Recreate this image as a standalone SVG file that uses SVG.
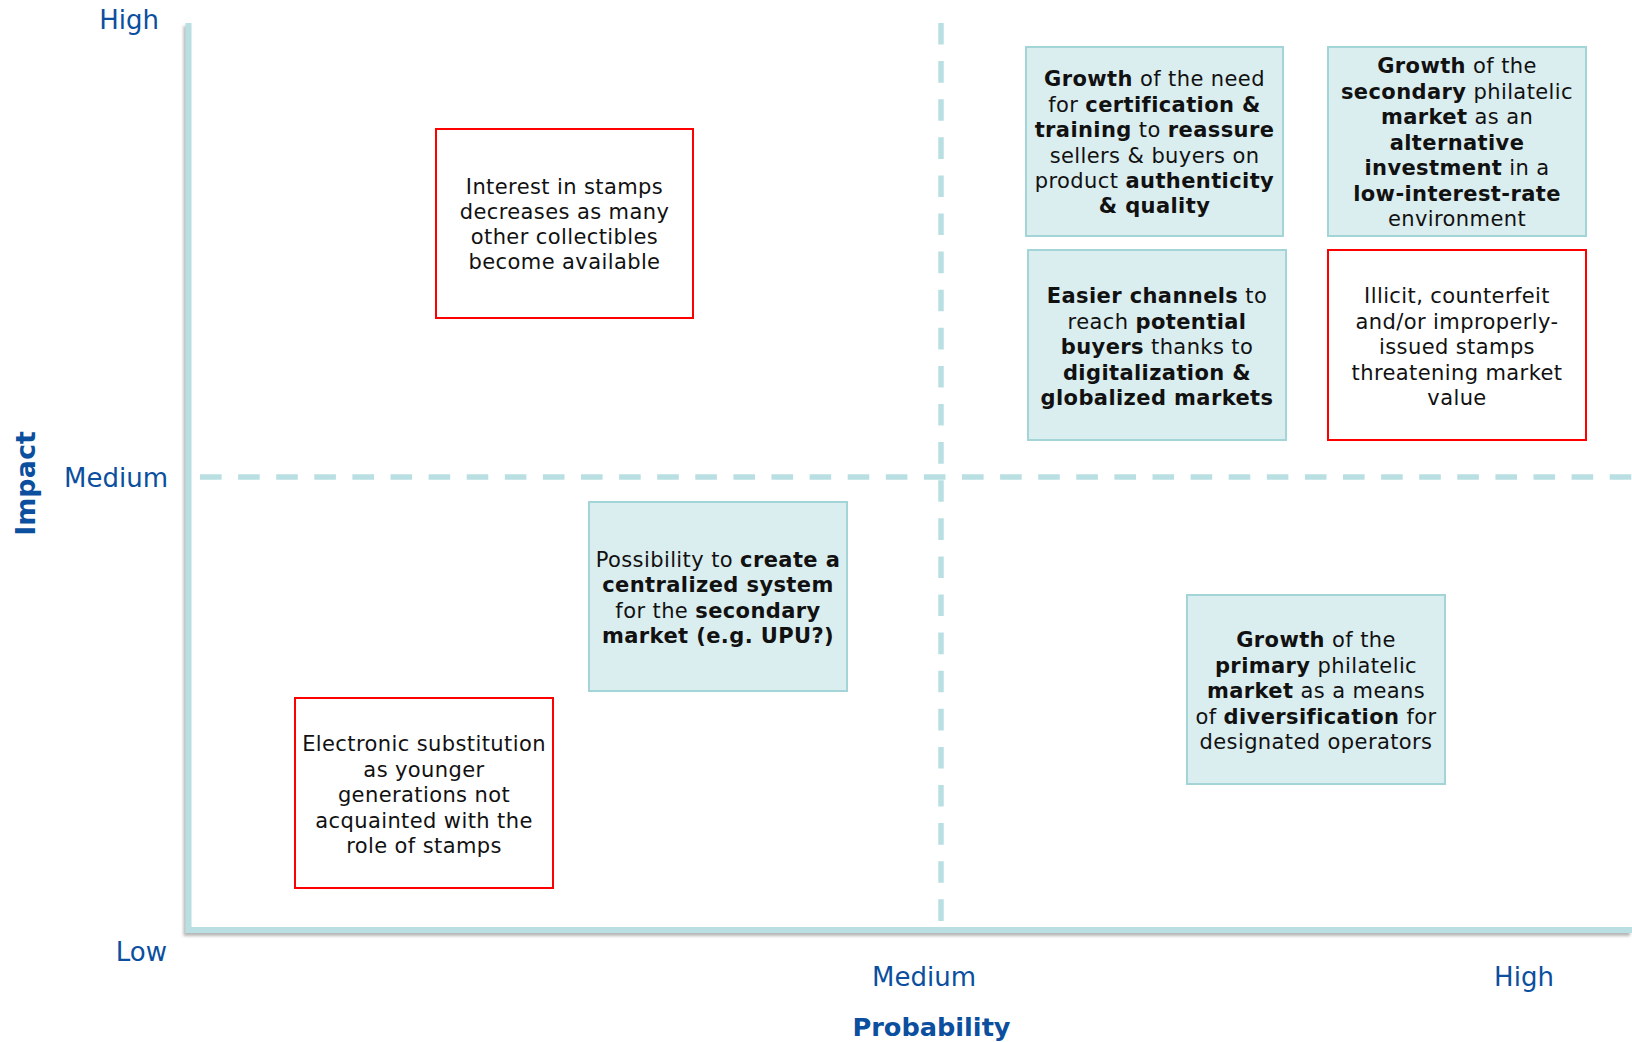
<svg xmlns="http://www.w3.org/2000/svg" width="1632" height="1042" viewBox="0 0 1632 1042">
<defs>
<filter id="sh" x="-5%" y="-5%" width="110%" height="110%">
<feDropShadow dx="-2" dy="3" stdDeviation="1.5" flood-color="#7a7a7a" flood-opacity="0.55"/>
</filter>
</defs>
<style>
.ax{fill:#0B4F9E;font-family:"DejaVu Sans",Verdana,sans-serif;font-size:26px}
.axb{fill:#0B4F9E;font-family:"DejaVu Sans",Verdana,sans-serif;font-size:27px;font-weight:bold}
.teal{fill:#DAEDEF;stroke:#A3D4D8;stroke-width:2}
.red{fill:#FFFFFF;stroke:#FF0000;stroke-width:2}
.t{fill:#111111;font-family:"DejaVu Sans",Verdana,sans-serif;font-size:21px;letter-spacing:0.4px;text-anchor:middle}
.b{font-weight:bold}
.dash{fill:none;stroke:#B9DFE3;stroke-width:5.5;stroke-dasharray:21.6 16.5}
</style>
<rect width="1632" height="1042" fill="#FFFFFF"/>
<g id="axes">
<path d="M188.5,23 V930 H1632" fill="none" stroke="#B9DFE3" stroke-width="6" filter="url(#sh)"/>
<path class="dash" d="M941,23 V921"/>
<path class="dash" d="M200,477 H1632"/>
</g>
<g id="axis-labels">
<text class="ax" x="159" y="29" text-anchor="end">High</text>
<text class="ax" x="168" y="487" text-anchor="end">Medium</text>
<text class="ax" x="167" y="961" text-anchor="end">Low</text>
<text class="ax" x="924" y="986" text-anchor="middle">Medium</text>
<text class="ax" x="1524" y="986" text-anchor="middle">High</text>
<text class="axb" x="931.5" y="1036" text-anchor="middle" style="font-size:25.6px">Probability</text>
<text class="axb" transform="translate(35,483.5) rotate(-90)" x="0" y="0" text-anchor="middle">Impact</text>
</g>
<g id="node-interest">
<rect class="red" x="436" y="129" width="257" height="189"/>
<text class="t"><tspan x="564.5" y="194">Interest in stamps</tspan><tspan x="564.5" y="219">decreases as many</tspan><tspan x="564.5" y="244">other collectibles</tspan><tspan x="564.5" y="269">become available</tspan></text>
</g>
<g id="node-certification">
<rect class="teal" x="1026" y="47" width="257" height="189"/>
<text class="t"><tspan x="1154.5" y="86"><tspan class="b">Growth</tspan> of the need</tspan><tspan x="1154.5" y="111.5">for <tspan class="b">certification &amp;</tspan></tspan><tspan x="1154.5" y="137"><tspan class="b">training</tspan> to <tspan class="b">reassure</tspan></tspan><tspan x="1154.5" y="162.5">sellers &amp; buyers on</tspan><tspan x="1154.5" y="188">product <tspan class="b">authenticity</tspan></tspan><tspan x="1154.5" y="213" class="b">&amp; quality</tspan></text>
</g>
<g id="node-secondary">
<rect class="teal" x="1328" y="47" width="258" height="189"/>
<text class="t"><tspan x="1457" y="73"><tspan class="b">Growth</tspan> of the</tspan><tspan x="1457" y="98.5"><tspan class="b">secondary</tspan> philatelic</tspan><tspan x="1457" y="124"><tspan class="b">market</tspan> as an</tspan><tspan x="1457" y="149.5" class="b">alternative</tspan><tspan x="1457" y="175"><tspan class="b">investment</tspan> in a</tspan><tspan x="1457" y="200.5" class="b">low-interest-rate</tspan><tspan x="1457" y="226">environment</tspan></text>
</g>
<g id="node-channels">
<rect class="teal" x="1028" y="250" width="258" height="190"/>
<text class="t"><tspan x="1157" y="303"><tspan class="b">Easier channels</tspan> to</tspan><tspan x="1157" y="328.5">reach <tspan class="b">potential</tspan></tspan><tspan x="1157" y="354"><tspan class="b">buyers</tspan> thanks to</tspan><tspan x="1157" y="379.5" class="b">digitalization &amp;</tspan><tspan x="1157" y="405" class="b">globalized markets</tspan></text>
</g>
<g id="node-illicit">
<rect class="red" x="1328" y="250" width="258" height="190"/>
<text class="t"><tspan x="1457" y="303">Illicit, counterfeit</tspan><tspan x="1457" y="328.5">and/or improperly-</tspan><tspan x="1457" y="354">issued stamps</tspan><tspan x="1457" y="379.5">threatening market</tspan><tspan x="1457" y="405">value</tspan></text>
</g>
<g id="node-centralized">
<rect class="teal" x="589" y="502" width="258" height="189"/>
<text class="t"><tspan x="718" y="566.5">Possibility to <tspan class="b">create a</tspan></tspan><tspan x="718" y="592" class="b">centralized system</tspan><tspan x="718" y="617.5">for the <tspan class="b">secondary</tspan></tspan><tspan x="718" y="643" class="b">market (e.g. UPU?)</tspan></text>
</g>
<g id="node-electronic">
<rect class="red" x="295" y="698" width="258" height="190"/>
<text class="t"><tspan x="424" y="751">Electronic substitution</tspan><tspan x="424" y="776.5">as younger</tspan><tspan x="424" y="802">generations not</tspan><tspan x="424" y="827.5">acquainted with the</tspan><tspan x="424" y="853">role of stamps</tspan></text>
</g>
<g id="node-primary">
<rect class="teal" x="1187" y="595" width="258" height="189"/>
<text class="t"><tspan x="1316" y="647"><tspan class="b">Growth</tspan> of the</tspan><tspan x="1316" y="672.5"><tspan class="b">primary</tspan> philatelic</tspan><tspan x="1316" y="698"><tspan class="b">market</tspan> as a means</tspan><tspan x="1316" y="723.5">of <tspan class="b">diversification</tspan> for</tspan><tspan x="1316" y="749">designated operators</tspan></text>
</g>
<g id="connectors"></g>
</svg>
